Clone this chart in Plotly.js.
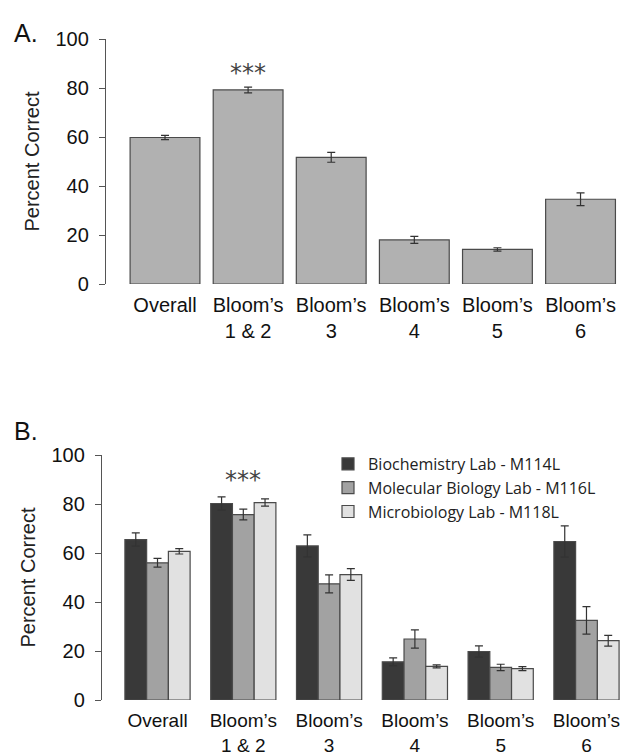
<!DOCTYPE html>
<html>
<head>
<meta charset="utf-8">
<script src="https://cdn.plot.ly/plotly-3.0.1.min.js"></script>
<style>html,body{margin:0;padding:0;background:#fff;}#chart{width:625px;height:756px;}</style>
</head>
<body>
<div id="chart"></div>
<script>
// Categories (tick labels)
const categories = ['Overall', 'Bloom’s<br>1 & 2', 'Bloom’s<br>3', 'Bloom’s<br>4', 'Bloom’s<br>5', 'Bloom’s<br>6'];

// Panel A: overall percent correct
const overallA = [59.8, 79.2, 51.7, 18.0, 14.1, 34.6];
const overallAErr = [0.9, 1.15, 2.0, 1.4, 0.7, 2.6];

// Panel B: by lab course
const seriesNames = ['Biochemistry Lab - M114L', 'Molecular Biology Lab - M116L', 'Microbiology Lab - M118L'];
const biochem = [65.5, 80.2, 62.9, 15.6, 19.8, 64.7];
const biochemErr = [2.7, 2.7, 4.5, 1.6, 2.3, 6.4];
const molbio = [56.0, 75.7, 47.4, 24.9, 13.3, 32.5];
const molbioErr = [1.8, 2.2, 3.7, 3.7, 1.3, 5.6];
const microbio = [60.7, 80.6, 51.2, 13.7, 12.8, 24.2];
const microbioErr = [1.1, 1.5, 2.4, 0.6, 0.8, 2.2];

const yTicks = [0, 20, 40, 60, 80, 100];

const FONT = 'Liberation Sans, Arial, Helvetica, sans-serif';
const outline = {color: '#4a4a4a', width: 1.2};
function err(arr) {
  return {type: 'data', array: arr, visible: true, color: '#333333', thickness: 1.2, width: 4};
}

const traces = [
  {type: 'bar', x: categories, y: overallA, error_y: err(overallAErr), xaxis: 'x', yaxis: 'y',
   width: 0.84, marker: {color: '#b1b1b1', line: outline}, showlegend: false, cliponaxis: false},
  {type: 'bar', name: seriesNames[0], x: categories, y: biochem, error_y: err(biochemErr), xaxis: 'x2', yaxis: 'y2',
   marker: {color: '#393939', line: outline}, cliponaxis: false},
  {type: 'bar', name: seriesNames[1], x: categories, y: molbio, error_y: err(molbioErr), xaxis: 'x2', yaxis: 'y2',
   marker: {color: '#a2a2a2', line: outline}, cliponaxis: false},
  {type: 'bar', name: seriesNames[2], x: categories, y: microbio, error_y: err(microbioErr), xaxis: 'x2', yaxis: 'y2',
   marker: {color: '#e1e1e1', line: outline}, cliponaxis: false}
];

function yAxis(domain) {
  return {
    domain: domain, range: [0, 100], tickvals: yTicks, showgrid: false, zeroline: false,
    showline: true, linecolor: '#555', linewidth: 1.2, ticks: 'outside', ticklen: 6, tickcolor: '#555',
    tickfont: {family: FONT, size: 20, color: '#111'}, ticklabelstandoff: 6,
    title: {text: 'Percent Correct', font: {family: FONT, size: 20, color: '#222'}, standoff: 10}
  };
}
function xAxis(domain, range, anchor, standoff, size) {
  return {
    domain: domain, range: range, anchor: anchor, type: 'category', showgrid: false, zeroline: false,
    showline: false, ticks: '', tickfont: {family: FONT, size: size, color: '#111'}, ticklabelstandoff: standoff
  };
}

const H = 756, W = 625;
const layout = {
  width: W, height: H, margin: {l: 0, r: 0, t: 0, b: 0},
  paper_bgcolor: '#fff', plot_bgcolor: 'rgba(0,0,0,0)',
  barmode: 'group', bargap: 0.24, bargroupgap: 0,
  xaxis: xAxis([106 / W, 1], [-0.71, 5.535], 'y', 7, 20),
  yaxis: yAxis([1 - 284 / H, 1 - 39 / H]),
  xaxis2: xAxis([102 / W, 1], [-0.647, 5.449], 'y2', 7, 19),
  yaxis2: Object.assign(yAxis([1 - 700 / H, 1 - 455 / H]), {anchor: 'x2'}),
  legend: {x: 328 / W, y: 1 - 447 / H, xanchor: 'left', yanchor: 'top', bgcolor: 'rgba(0,0,0,0)',
           font: {family: 'Open Sans, Noto Sans, sans-serif', size: 16, color: '#222'}, itemwidth: 30},
  annotations: [
    {text: 'A.', xref: 'paper', yref: 'paper', x: 12 / W, y: 1 - 33 / H, xanchor: 'left', yanchor: 'middle',
     showarrow: false, font: {family: FONT, size: 25, color: '#111'}},
    {text: 'B.', xref: 'paper', yref: 'paper', x: 12 / W, y: 1 - 431 / H, xanchor: 'left', yanchor: 'middle',
     showarrow: false, font: {family: FONT, size: 25, color: '#111'}},
    {text: '***', xref: 'x', yref: 'y', x: categories[1], y: 86, showarrow: false,
     font: {family: 'DejaVu Sans, sans-serif', size: 24, color: '#444'}},
    {text: '***', xref: 'x2', yref: 'y2', x: categories[1], y: 90, showarrow: false,
     font: {family: 'DejaVu Sans, sans-serif', size: 24, color: '#444'}}
  ]
};

Plotly.newPlot('chart', traces, layout, {displayModeBar: false, staticPlot: true});
</script>
</body>
</html>
